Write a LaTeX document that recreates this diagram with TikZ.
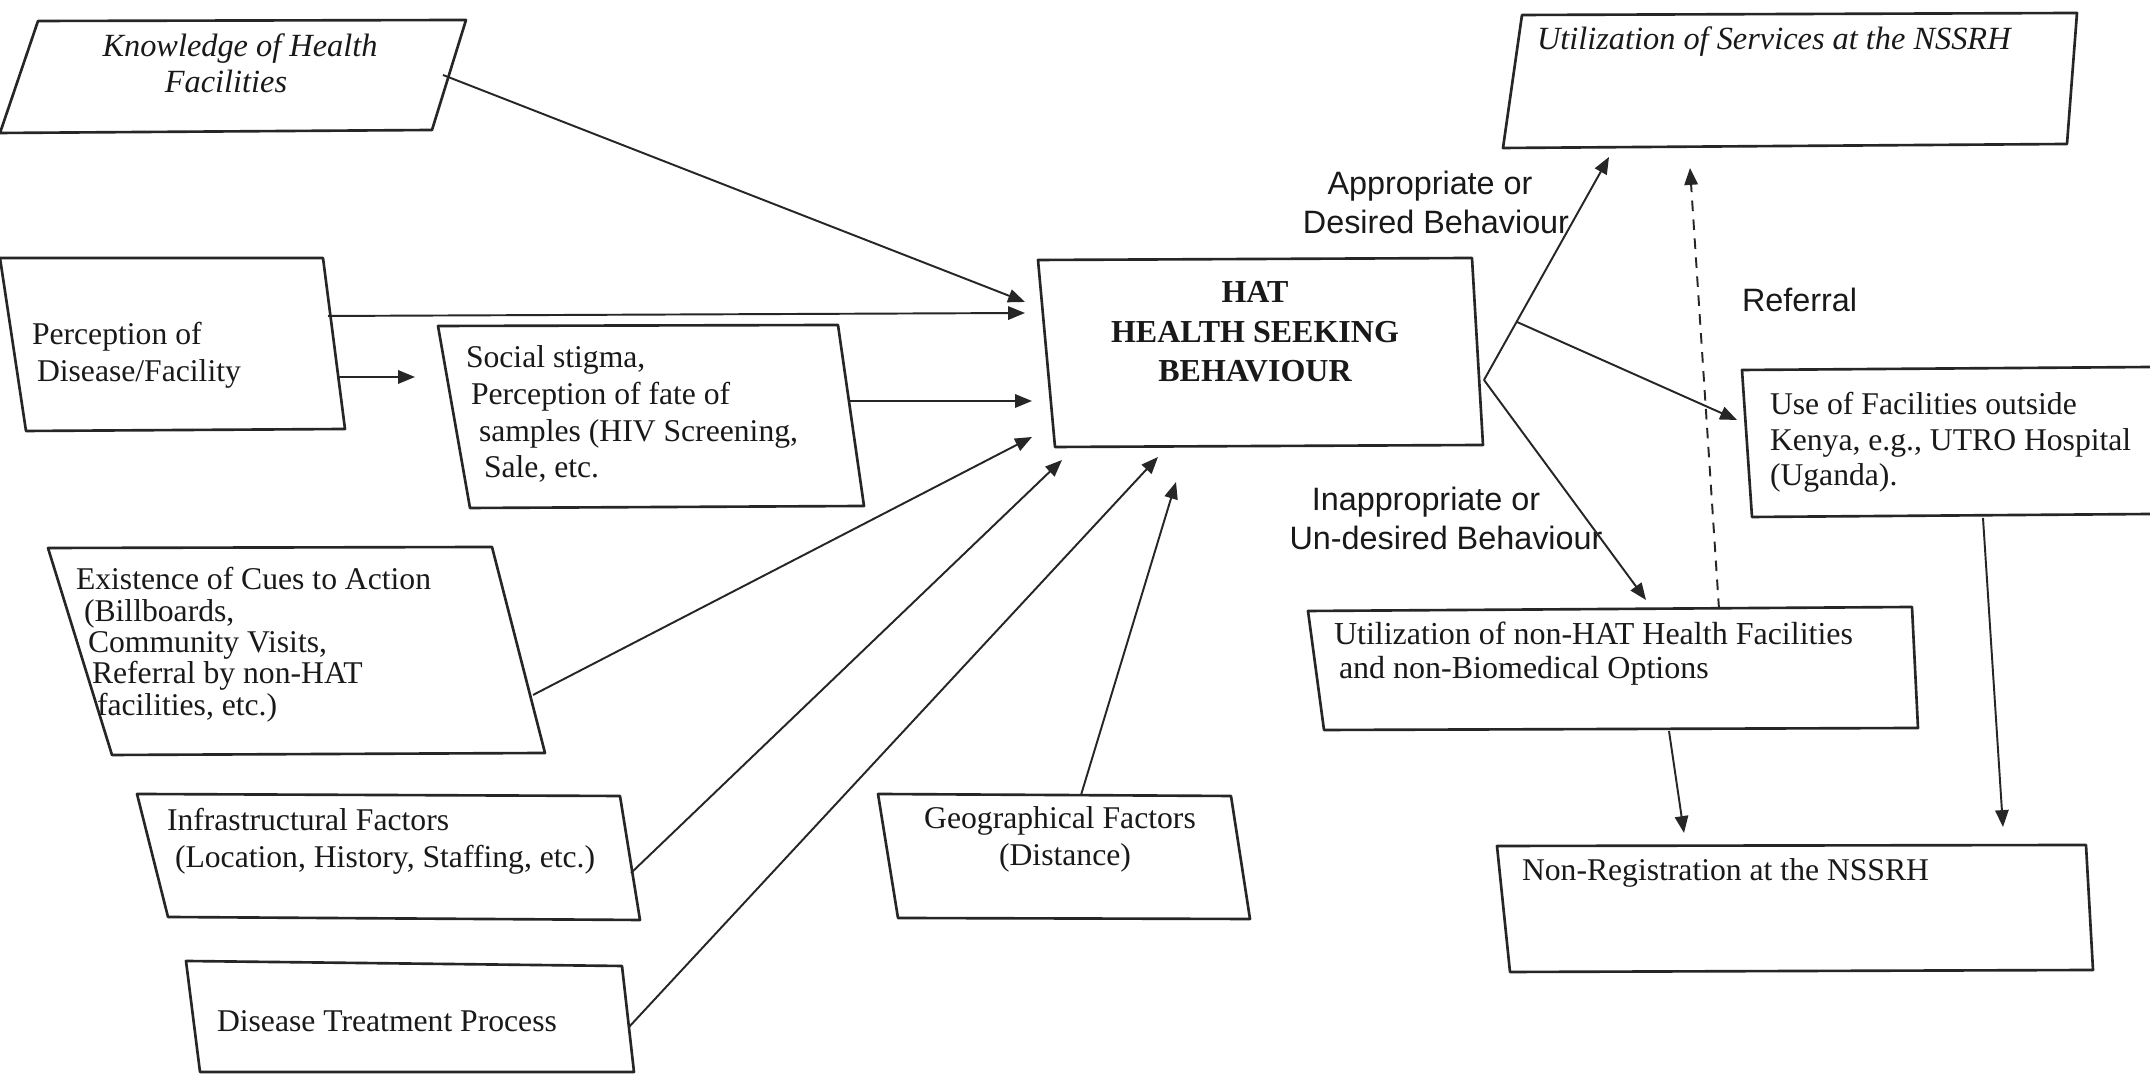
\documentclass[tikz,border=0pt]{standalone}
\usepackage{fontspec}
\setmainfont{Liberation Serif}
\setsansfont{Liberation Sans}
\usetikzlibrary{arrows.meta}
\newcommand{\txtl}[1]{\begin{tabular}[t]{@{}l@{}}#1\end{tabular}}
\newcommand{\txtc}[1]{\begin{tabular}[t]{@{}c@{}}#1\end{tabular}}
\begin{document}
\begin{tikzpicture}[x=0.01cm,y=-0.01cm,
  box/.style={draw=black!85, line width=0.75pt, line join=round},
  arr/.style={draw=black!85, line width=0.55pt, -{Triangle[length=4.8pt,width=3.8pt]}},
  plain/.style={draw=black!85, line width=0.55pt},
  dasharr/.style={arr, dash pattern=on 3pt off 2.4pt},
  lbl/.style={inner sep=0pt, outer sep=0pt, text=black!90},
  rm/.style={lbl, font=\fontsize{9}{10.4}\selectfont},
  rmE/.style={lbl, font=\fontsize{9}{8.8}\selectfont},
  rmN/.style={lbl, font=\fontsize{9.1}{9.4}\selectfont},
  rmF/.style={lbl, font=\fontsize{9}{10}\selectfont},
  it/.style={lbl, font=\itshape\fontsize{9.2}{10.2}\selectfont},
  bf/.style={lbl, font=\bfseries\fontsize{9.1}{11.1}\selectfont},
  sf/.style={lbl, font=\sffamily\fontsize{9.2}{11}\selectfont}]
\fill[white] (0,0) rectangle (2150,1074);
\useasboundingbox (0,0) rectangle (2150,1074);

% ---- box corners
\coordinate (K1) at (38,21);   \coordinate (K2) at (466,20);  \coordinate (K3) at (432,130);  \coordinate (K4) at (0,133);
\coordinate (P1) at (0,258);   \coordinate (P2) at (323,258); \coordinate (P3) at (345,429);  \coordinate (P4) at (26,431);
\coordinate (S1) at (438,326); \coordinate (S2) at (838,325); \coordinate (S3) at (864,506);  \coordinate (S4) at (470,508);
\coordinate (E1) at (48,548);  \coordinate (E2) at (492,547); \coordinate (E3) at (545,753);  \coordinate (E4) at (112,755);
\coordinate (I1) at (137,794); \coordinate (I2) at (620,796); \coordinate (I3) at (640,920);  \coordinate (I4) at (168,917);
\coordinate (D1) at (186,961); \coordinate (D2) at (622,966); \coordinate (D3) at (634,1072); \coordinate (D4) at (200,1072);
\coordinate (G1) at (878,794); \coordinate (G2) at (1231,796);\coordinate (G3) at (1250,919);  \coordinate (G4) at (898,918);
\coordinate (H1) at (1038,260);\coordinate (H2) at (1472,258);\coordinate (H3) at (1483,445);  \coordinate (H4) at (1055,447);
\coordinate (U1) at (1522,15); \coordinate (U2) at (2077,13); \coordinate (U3) at (2067,144);  \coordinate (U4) at (1503,148);
\coordinate (F1) at (1742,370);\coordinate (F2) at (2152,367);\coordinate (F3) at (2152,514);  \coordinate (F4) at (1752,517);
\coordinate (N1) at (1308,611);\coordinate (N2) at (1912,607);\coordinate (N3) at (1918,728);  \coordinate (N4) at (1324,730);
\coordinate (R1) at (1497,846);\coordinate (R2) at (2086,845);\coordinate (R3) at (2093,970);  \coordinate (R4) at (1510,972);

\foreach \b in {K,P,S,E,I,D,G,H,U,F,N,R}
  \draw[box] (\b1) -- (\b2) -- (\b3) -- (\b4) -- cycle;

% ---- texts
\node[it, anchor=base] (kt) at (240,57) {\txtc{Knowledge of Health\\\hspace*{-0.28cm}Facilities}};
\node[rm, anchor=base west] (pt) at (32,345) {\txtl{Perception of\\\hspace*{0.05cm}Disease/Facility}};
\node[rm, anchor=base west] (st) at (466,368) {\txtl{Social stigma,\\\hspace*{0.05cm}Perception of fate of\\\hspace*{0.13cm}samples (HIV Screening,\\\hspace*{0.18cm}Sale, etc.}};
\node[rmE, anchor=base west] (et) at (76,590) {\txtl{Existence of Cues to Action\\\hspace*{0.08cm}(Billboards,\\\hspace*{0.12cm}Community Visits,\\\hspace*{0.16cm}Referral by non-HAT\\\hspace*{0.21cm}facilities, etc.)}};
\node[rm, anchor=base west] (itx) at (167,831) {\txtl{Infrastructural Factors\\\hspace*{0.08cm}(Location, History, Staffing, etc.)}};
\node[rm, anchor=base west] (dt) at (217,1032) {Disease Treatment Process};
\node[rm, anchor=base] (gt) at (1060,829) {\txtc{Geographical Factors\\\hspace*{0.1cm}(Distance)}};
\node[bf, anchor=base] (ht) at (1255,303) {\txtc{HAT\\HEALTH SEEKING\\BEHAVIOUR}};
\node[it, anchor=base west] (ut) at (1537,50) {Utilization of Services at the NSSRH};
\node[sf, anchor=base] (app) at (1430,195) {\txtc{Appropriate or\\\hspace*{0.12cm}Desired Behaviour}};
\node[sf, anchor=base west] (ref) at (1742,312) {Referral};
\node[rmF, anchor=base west] (ft) at (1770,415) {\txtl{Use of Facilities outside\\Kenya, e.g., UTRO Hospital\\(Uganda).}};
\node[sf, anchor=base] (inapp) at (1426,511) {\txtc{Inappropriate or\\\hspace*{0.4cm}Un-desired Behaviour}};
\node[rmN, anchor=base west] (nt) at (1334,645) {\txtl{Utilization of non-HAT Health Facilities\\\hspace*{0.05cm}and non-Biomedical Options}};
\node[rm, anchor=base west] (rt) at (1522,881) {Non-Registration at the NSSRH};

% ---- connector end points
\coordinate (kout) at (443,75);   \coordinate (hinK) at (1025,302);
\coordinate (pout1) at (328,316); \coordinate (hinP) at (1025,313);
\coordinate (pout2) at (337,377); \coordinate (sin) at (415,377);
\coordinate (sout) at (849,401);  \coordinate (hinS) at (1032,401);
\coordinate (eout) at (533,695);  \coordinate (hinE) at (1032,437);
\coordinate (iout) at (631,873);  \coordinate (hinI) at (1062,460);
\coordinate (dout) at (629,1027); \coordinate (hinD) at (1158,457);
\coordinate (gout) at (1081,795); \coordinate (hinG) at (1176,482);
\coordinate (hv) at (1484,380);
\coordinate (uin) at (1609,157);
\coordinate (fork) at (1517,322); \coordinate (fin) at (1737,420);
\coordinate (nin) at (1646,600);
\coordinate (nout) at (1719,609); \coordinate (uin2) at (1690,168);
\coordinate (nout2) at (1669,731); \coordinate (rin1) at (1684,833);
\coordinate (fout) at (1983,518); \coordinate (rin2) at (2003,827);

\draw[arr] (kout) -- (hinK);
\draw[arr] (pout1) -- (hinP);
\draw[arr] (pout2) -- (sin);
\draw[arr] (sout) -- (hinS);
\draw[arr] (eout) -- (hinE);
\draw[arr] (iout) -- (hinI);
\draw[arr] (dout) -- (hinD);
\draw[arr] (gout) -- (hinG);
\draw[arr] (hv) -- (uin);
\draw[arr] (hv) -- (nin);
\draw[arr] (fork) -- (fin);
\draw[dasharr] (nout) -- (uin2);
\draw[arr] (nout2) -- (rin1);
\draw[arr] (fout) -- (rin2);
\end{tikzpicture}
\end{document}
